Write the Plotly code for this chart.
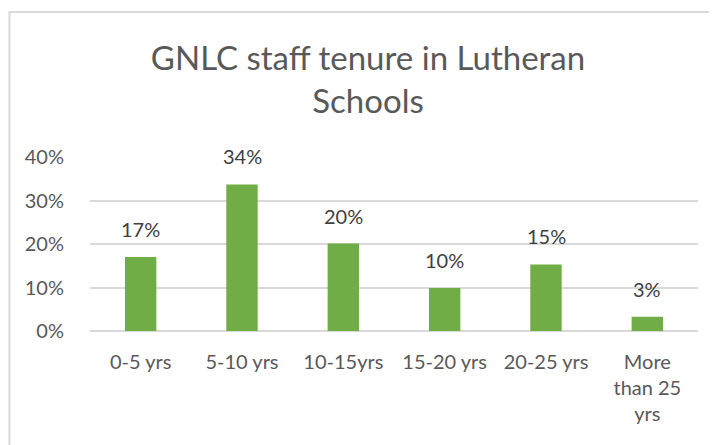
import plotly.graph_objects as go

categories = ["0-5 yrs", "5-10 yrs", "10-15yrs", "15-20 yrs", "20-25 yrs", "More than 25 yrs"]
tick_labels = ["0-5 yrs", "5-10 yrs", "10-15yrs", "15-20 yrs", "20-25 yrs", "More<br>than 25<br>yrs"]
shares = [0.170, 0.337, 0.201, 0.099, 0.153, 0.033]
y_ticks = [0, 0.1, 0.2, 0.3, 0.4]
y_tick_labels = ["0%", "10%", "20%", "30%", "40%"]

FONT = "Lato, 'Open Sans', sans-serif"

fig = go.Figure()
fig.add_trace(go.Bar(
    x=categories, y=shares,
    marker=dict(color="#70AD47", line=dict(width=0)),
    width=0.31,
    hoverinfo="skip",
))

for c, v in zip(categories, shares):
    fig.add_annotation(
        x=c, y=v, xref="x", yref="y",
        text=f"{round(v*100):d}%", showarrow=False,
        yanchor="bottom", yshift=14,
        font=dict(family=FONT, size=20, color="#404040"),
    )

# chart border
fig.add_shape(type="rect", xref="paper", yref="paper",
              x0=-0.1325, x1=1.06, y0=-0.75, y1=1.833,
              line=dict(color="#D9D9D9", width=2), fillcolor="rgba(0,0,0,0)", layer="below")

fig.update_layout(
    width=717, height=445,
    margin=dict(l=82, r=27, t=149, b=122),
    paper_bgcolor="white", plot_bgcolor="white",
    showlegend=False,
    title=dict(text="GNLC staff tenure in Lutheran<br>Schools",
               x=(360 / 717), xanchor="center", y=0.86, yanchor="top",
               font=dict(family=FONT, size=33, color="#595959")),
    font=dict(family=FONT, size=20, color="#595959"),
    xaxis=dict(
        tickmode="array", tickvals=categories, ticktext=tick_labels,
        showgrid=False, showline=False, zeroline=False,
        ticks="outside", ticklen=13, tickcolor="rgba(0,0,0,0)",
        tickfont=dict(family=FONT, size=20, color="#595959"),
        fixedrange=True,
    ),
    yaxis=dict(
        range=[0, 0.4], tickmode="array", tickvals=y_ticks, ticktext=y_tick_labels,
        showgrid=True, gridcolor="#D9D9D9", gridwidth=1.5,
        zeroline=True, zerolinecolor="#D9D9D9", zerolinewidth=1.5,
        showline=False, ticks="outside", ticklen=21, tickcolor="rgba(0,0,0,0)",
        tickfont=dict(family=FONT, size=20, color="#595959"),
        fixedrange=True,
    ),
)

fig.write_html("out.html")
